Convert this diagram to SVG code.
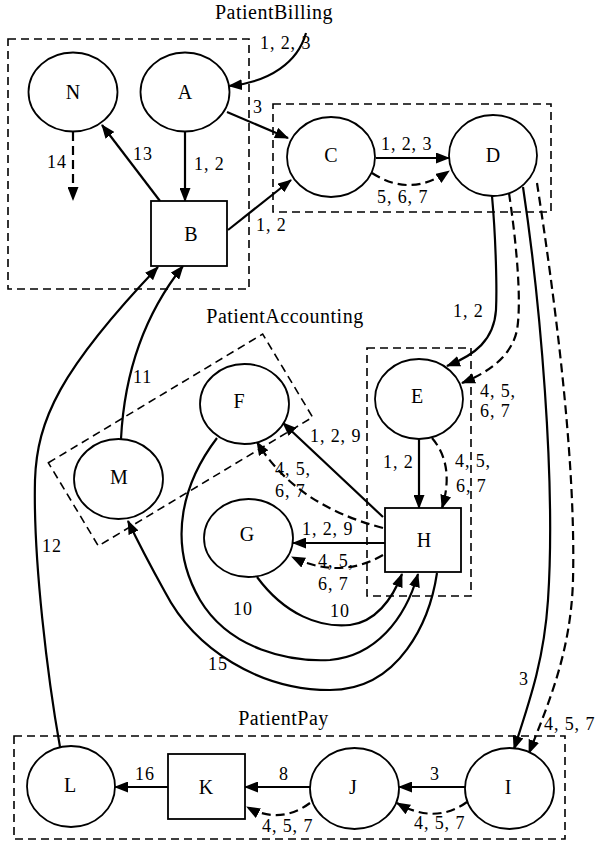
<svg xmlns="http://www.w3.org/2000/svg" width="597" height="845" viewBox="0 0 597 845">
<style>
.bg{fill:#fff}
.node{fill:#fff;stroke:#000;stroke-width:1.8}
.cl{fill:none;stroke:#000;stroke-width:1.6;stroke-dasharray:8,5}
.e{fill:none;stroke:#000;stroke-width:2.2}
.d{stroke-dasharray:9,5}
.nl{font-size:20px;text-anchor:middle}
.cll{font-size:20px;text-anchor:middle;letter-spacing:0.5px}
.el{font-size:18px;letter-spacing:0.9px}
</style>
<defs>
<marker id="ah" markerUnits="userSpaceOnUse" viewBox="0 0 14 11" refX="13" refY="5.5" markerWidth="14" markerHeight="11" orient="auto">
<path d="M0,0 L14,5.5 L0,11 z" fill="#000"/>
</marker>
</defs>
<rect class="bg" x="0" y="0" width="597" height="845"/>
<g font-family="'Liberation Serif', 'Times New Roman', serif" fill="#000">
<g id="clusters">
<rect class="cl" x="8" y="39" width="241" height="250"/>
<text class="cll" x="274" y="19">PatientBilling</text>
<rect class="cl" x="273" y="104" width="278" height="108"/>
<rect class="cl" x="55.5" y="391.5" width="250" height="97" transform="rotate(-31 180.5 440)"/>
<text class="cll" x="285" y="323">PatientAccounting</text>
<rect class="cl" x="367" y="348" width="104" height="248"/>
<rect class="cl" x="14" y="736" width="551" height="103"/>
<text class="cll" x="283.5" y="725">PatientPay</text>
</g>

<g id="connectors">
<path class="e" d="M306,33 C298,62 270,82 229,86" marker-end="url(#ah)"/>
<text class="el" x="260" y="49">1, 2, 3</text>
<path class="e" d="M185,132 L185,201" marker-end="url(#ah)"/>
<text class="el" x="194" y="170">1, 2</text>
<path class="e" d="M160,201 L102,125" marker-end="url(#ah)"/>
<text class="el" x="133" y="160">13</text>
<path class="e d" d="M73,132 L73,200" marker-end="url(#ah)"/>
<text class="el" x="47" y="168">14</text>
<path class="e" d="M227,112 L288,138" marker-end="url(#ah)"/>
<text class="el" x="253" y="113">3</text>
<path class="e" d="M228,230 L291,180" marker-end="url(#ah)"/>
<text class="el" x="256" y="231">1, 2</text>
<path class="e" d="M376,158 L449,158" marker-end="url(#ah)"/>
<text class="el" x="381" y="150">1, 2, 3</text>
<path class="e d" d="M372,173 Q410,198 449,171" marker-end="url(#ah)"/>
<text class="el" x="377" y="203">5, 6, 7</text>
<path class="e" d="M492,196 C496,240 497,290 496,310 C494,340 475,355 447,366" marker-end="url(#ah)"/>
<text class="el" x="453" y="317">1, 2</text>
<path class="e d" d="M509,193 C516,240 522,300 517,330 C512,355 490,372 462,383" marker-end="url(#ah)"/>
<text class="el" x="480" y="397">4, 5,</text>
<text class="el" x="480" y="417">6, 7</text>
<path class="e" d="M523,187 C540,300 556,480 548,600 C544,660 530,700 514,749" marker-end="url(#ah)"/>
<text class="el" x="519" y="685">3</text>
<path class="e d" d="M537,183 C555,300 576,460 573,580 C571,650 550,700 529,753" marker-end="url(#ah)"/>
<text class="el" x="544" y="730">4, 5, 7</text>
<path class="e" d="M419,439 L419,508" marker-end="url(#ah)"/>
<text class="el" x="383" y="468">1, 2</text>
<path class="e d" d="M432,438 Q455,465 442,508" marker-end="url(#ah)"/>
<text class="el" x="455" y="467">4, 5,</text>
<text class="el" x="456" y="492">6, 7</text>
<path class="e" d="M383,517 L283,423" marker-end="url(#ah)"/>
<text class="el" x="310" y="442">1, 2, 9</text>
<path class="e d" d="M383,528 Q295,505 257,442" marker-end="url(#ah)"/>
<text class="el" x="275" y="475">4, 5,</text>
<text class="el" x="275" y="497">6, 7</text>
<path class="e" d="M385,543 L293,543" marker-end="url(#ah)"/>
<text class="el" x="302" y="535">1, 2, 9</text>
<path class="e d" d="M383,555 Q340,580 292,557" marker-end="url(#ah)"/>
<text class="el" x="318" y="567">4, 5,</text>
<text class="el" x="318" y="590">6, 7</text>
<path class="e" d="M257,577 C285,615 320,628 350,625 C375,622 392,600 402,574" marker-end="url(#ah)"/>
<text class="el" x="330" y="617">10</text>
<path class="e" d="M217,438 C185,480 165,540 200,600 C230,650 290,662 330,660 C375,656 405,620 418,574" marker-end="url(#ah)"/>
<text class="el" x="233" y="615">10</text>
<path class="e" d="M437,573 C430,620 400,690 330,690 C260,690 195,650 165,592 C150,565 137,540 128,521" marker-end="url(#ah)"/>
<text class="el" x="208" y="670">15</text>
<path class="e" d="M121,439 C124,380 140,320 183,266" marker-end="url(#ah)"/>
<text class="el" x="133" y="383">11</text>
<path class="e" d="M60,747 C48,680 33,560 35,480 C37,420 60,370 158,267" marker-end="url(#ah)"/>
<text class="el" x="42" y="552">12</text>
<path class="e" d="M465,787 L399,787" marker-end="url(#ah)"/>
<text class="el" x="430" y="780">3</text>
<path class="e d" d="M467,802 Q435,825 397,803" marker-end="url(#ah)"/>
<text class="el" x="414" y="829">4, 5, 7</text>
<path class="e" d="M310,787 L245,787" marker-end="url(#ah)"/>
<text class="el" x="279" y="780">8</text>
<path class="e d" d="M310,803 Q280,825 247,807" marker-end="url(#ah)"/>
<text class="el" x="262" y="832">4, 5, 7</text>
<path class="e" d="M168,787 L115,787" marker-end="url(#ah)"/>
<text class="el" x="135" y="780">16</text>
</g>

<g id="node-N"><ellipse class="node" cx="73" cy="92" rx="44.5" ry="39.5"/><text class="nl" x="73" y="99">N</text></g>
<g id="node-A"><ellipse class="node" cx="185" cy="92" rx="44.5" ry="39.5"/><text class="nl" x="185" y="99">A</text></g>
<g id="node-B"><rect class="node" x="151" y="201" width="76" height="65"/><text class="nl" x="191" y="241">B</text></g>
<g id="node-C"><ellipse class="node" cx="331" cy="157" rx="44" ry="40"/><text class="nl" x="331" y="162">C</text></g>
<g id="node-D"><ellipse class="node" cx="493" cy="155.5" rx="44" ry="40.5"/><text class="nl" x="493" y="162">D</text></g>
<g id="node-E"><ellipse class="node" cx="419" cy="399" rx="44" ry="40"/><text class="nl" x="417" y="403">E</text></g>
<g id="node-F"><ellipse class="node" cx="244.5" cy="404" rx="44.5" ry="40"/><text class="nl" x="239" y="408">F</text></g>
<g id="node-G"><ellipse class="node" cx="248.5" cy="538" rx="44.5" ry="39"/><text class="nl" x="247" y="541">G</text></g>
<g id="node-H"><rect class="node" x="385" y="508" width="76" height="64"/><text class="nl" x="424" y="547">H</text></g>
<g id="node-M"><ellipse class="node" cx="118.5" cy="479" rx="44.5" ry="40"/><text class="nl" x="119" y="484">M</text></g>
<g id="node-I"><ellipse class="node" cx="509.5" cy="788.5" rx="44.5" ry="40.5"/><text class="nl" x="508" y="794">I</text></g>
<g id="node-J"><ellipse class="node" cx="354.5" cy="788.5" rx="44.5" ry="40.5"/><text class="nl" x="353" y="794">J</text></g>
<g id="node-K"><rect class="node" x="168" y="754" width="77" height="65"/><text class="nl" x="206" y="794">K</text></g>
<g id="node-L"><ellipse class="node" cx="71" cy="786.5" rx="44" ry="40.5"/><text class="nl" x="70" y="792">L</text></g>
</g>
</svg>
